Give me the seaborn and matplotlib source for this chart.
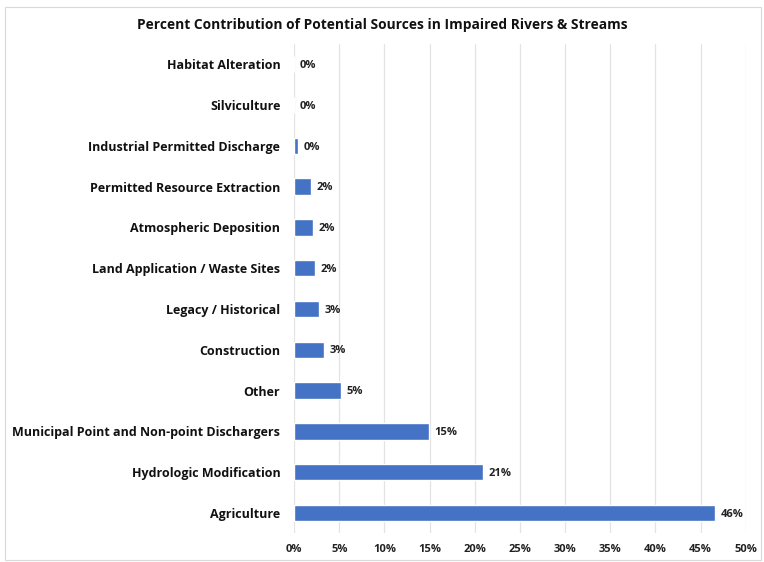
import pandas as pd
import numpy as np
import seaborn as sns
import matplotlib.pyplot as plt
from matplotlib.patches import Rectangle

# data
sources = ["Habitat Alteration", "Silviculture", "Industrial Permitted Discharge",
           "Permitted Resource Extraction", "Atmospheric Deposition",
           "Land Application / Waste Sites", "Legacy / Historical", "Construction",
           "Other", "Municipal Point and Non-point Dischargers",
           "Hydrologic Modification", "Agriculture"]
percent = [0.0, 0.0, 0.4, 1.9, 2.1, 2.3, 2.8, 3.3, 5.2, 14.9, 20.9, 46.6]
labels = ["0%", "0%", "0%", "2%", "2%", "2%", "3%", "3%", "5%", "15%", "21%", "46%"]
xticks = list(range(0, 51, 5))

df = pd.DataFrame({"Source": sources, "Percent": percent})

sns.set_style("white")
plt.rcParams["font.family"] = ["Open Sans", "DejaVu Sans"]

fig = plt.figure(figsize=(7.64, 5.62), dpi=100)
ax = fig.add_axes([0.385, 0.051, 0.591, 0.871])

sns.barplot(data=df, x="Percent", y="Source", color="#4472C4", width=0.4,
            saturation=1, ax=ax, zorder=3)

for i, (v, lab) in enumerate(zip(percent, labels)):
    ax.text(v + 0.6, i + 0.03, lab, va="center", ha="left", fontsize=8,
            fontweight="bold", color="#222222")

ax.set_xlim(0, 50)
ax.set_ylim(11.5, -0.5)
ax.set_xticks(xticks)
ax.set_xticklabels([f"{t}%" for t in xticks], fontsize=8, fontweight="bold", color="#222222")
ax.set_yticks(range(len(sources)))
ax.set_yticklabels(sources, fontsize=9, fontweight="bold", color="#111111")
ax.tick_params(axis="y", length=0, pad=10)
ax.tick_params(axis="x", length=0, pad=8)
ax.set_xlabel("")
ax.set_ylabel("")
ax.grid(axis="x", color="#e3e3e3", linewidth=0.9, zorder=0)
for s in ax.spines.values():
    s.set_visible(False)

fig.suptitle("Percent Contribution of Potential Sources in Impaired Rivers & Streams",
             y=0.968, fontsize=9.9, fontweight="bold", color="#111111")

fig.patches.append(Rectangle((0.006, 0.004), 0.99, 0.984, transform=fig.transFigure,
                             fill=False, edgecolor="#d9d9d9", linewidth=0.8))

plt.savefig("out.png", dpi=100)
